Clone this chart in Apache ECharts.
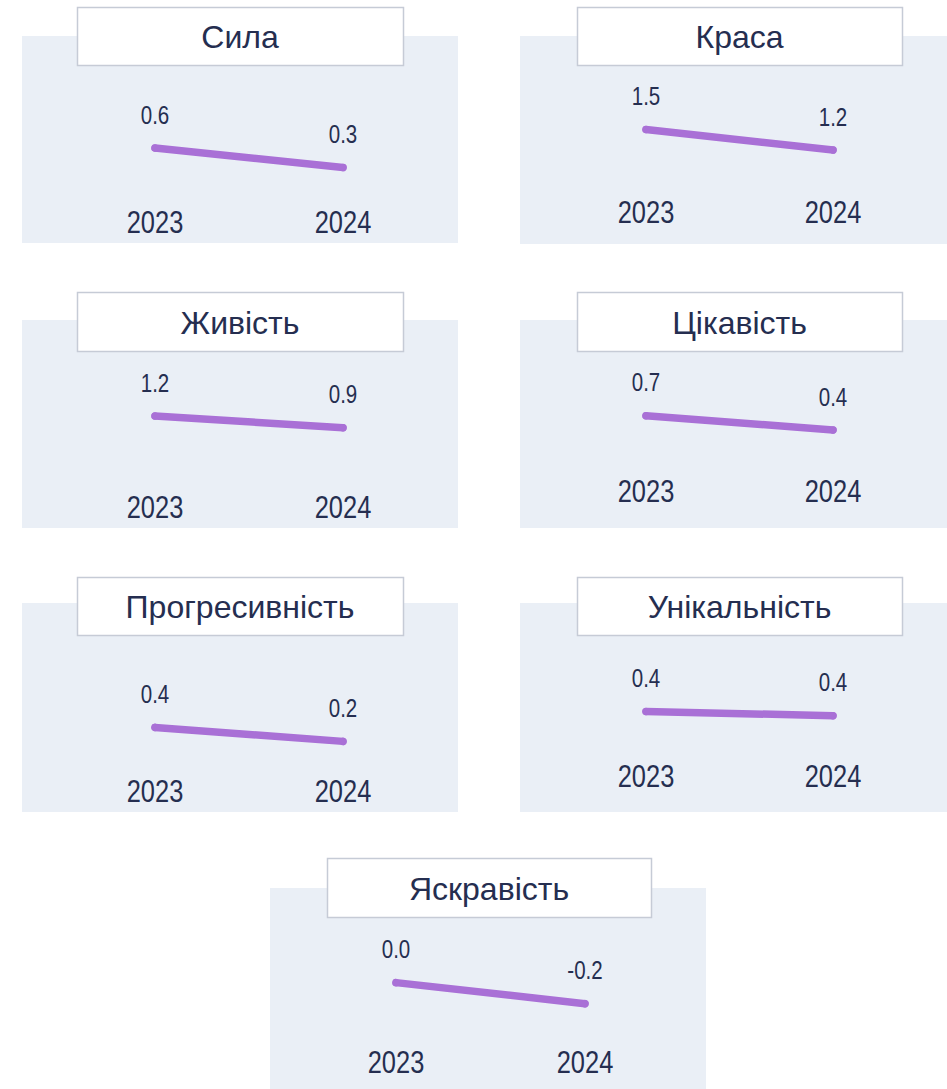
<!DOCTYPE html>
<html><head><meta charset="utf-8">
<script src="https://cdn.jsdelivr.net/npm/echarts@6/dist/echarts.min.js"></script>
<style>
html,body{margin:0;padding:0;background:#fff}
#c{width:947px;height:1089px}
</style>
</head><body><div id="c"></div>
<script>
// ---- data ----
const years = ['2023', '2024'];
const titles = ['Сила', 'Краса', 'Живість', 'Цікавість', 'Прогресивність', 'Унікальність', 'Яскравість'];
const sila = [0.6, 0.3];
const krasa = [1.5, 1.2];
const zhyvist = [1.2, 0.9];
const tsikavist = [0.7, 0.4];
const prohresyvnist = [0.4, 0.2];
const unikalnist = [0.43, 0.37];
const yaskravist = [0.0, -0.2];
const seriesValues = [sila, krasa, zhyvist, tsikavist, prohresyvnist, unikalnist, yaskravist];
// per-panel value-axis ranges (each small multiple is scaled independently)
const yMin = [0.018, 0.670, -0.185, -0.438, 0.034, -0.150, -0.527];
const yMax = [1.549, 2.141, 2.379, 1.658, 1.463, 1.245, 0.425];

// ---- layout (not data) ----
const layout = [
  {bx: 22,  by: 36,  bw: 436, bh: 207, tx: 77,  ty: 7,   tw: 326, th: 58, x0: 155, x1: 343, lm: 36.5},
  {bx: 520, by: 36,  bw: 436, bh: 208, tx: 577, ty: 7,   tw: 325, th: 58, x0: 646, x1: 833, lm: 26.5},
  {bx: 22,  by: 320, bw: 436, bh: 208, tx: 77,  ty: 292, tw: 326, th: 59, x0: 155, x1: 343, lm: 37},
  {bx: 520, by: 320, bw: 436, bh: 208, tx: 577, ty: 292, tw: 325, th: 59, x0: 646, x1: 833, lm: 21},
  {bx: 22,  by: 603, bw: 436, bh: 209, tx: 77,  ty: 577, tw: 326, th: 58, x0: 155, x1: 343, lm: 38.7},
  {bx: 520, by: 603, bw: 436, bh: 209, tx: 577, ty: 577, tw: 325, th: 58, x0: 646, x1: 833, lm: 23},
  {bx: 270, by: 888, bw: 436, bh: 210, tx: 327, ty: 858, tw: 324, th: 59, x0: 396, x1: 585, lm: 24.5}
];
const NAVY = '#252E50';
const PURPLE = '#A970D6';
const BG = '#EAEFF6';
const NARROW = '"Liberation Sans Narrow", "Liberation Sans", Arial, sans-serif';
const SANS = '"Liberation Sans", Arial, sans-serif';

const grids = [], xAxes = [], yAxes = [], series = [], graphics = [];
layout.forEach((L, i) => {
  grids.push({left: L.x0, top: L.by + 50, width: L.x1 - L.x0, height: 100, containLabel: false});
  xAxes.push({
    type: 'category', gridIndex: i, data: years, boundaryGap: false,
    axisLine: {show: false}, axisTick: {show: false}, splitLine: {show: false},
    axisLabel: {margin: L.lm, verticalAlign: 'middle', fontSize: 31, fontFamily: NARROW, color: NAVY}
  });
  yAxes.push({type: 'value', gridIndex: i, min: yMin[i], max: yMax[i], show: false});
  series.push({
    type: 'line', xAxisIndex: i, yAxisIndex: i, data: seriesValues[i],
    symbol: 'circle', symbolSize: 7.5, itemStyle: {color: PURPLE},
    lineStyle: {width: 7.5, color: PURPLE, cap: 'round'},
    label: {show: true, position: 'top', distance: 17, fontSize: 25, fontFamily: NARROW, color: NAVY,
      formatter: p => p.value.toFixed(1)},
    silent: true, animation: false, z: 5
  });
  graphics.push({type: 'rect', shape: {x: L.bx, y: L.by, width: L.bw, height: L.bh}, style: {fill: BG}, z: -10, silent: true});
  graphics.push({type: 'rect', shape: {x: L.tx + 0.5, y: L.ty + 0.5, width: L.tw, height: L.th},
    style: {fill: '#ffffff', stroke: '#C6CBD6', lineWidth: 1.5}, z: 50, silent: true});
  graphics.push({type: 'text', x: L.tx + L.tw / 2, y: L.ty + L.th / 2 + 1, z: 51, silent: true,
    style: {text: titles[i], fill: NAVY, fontSize: 32, fontFamily: SANS, textAlign: 'center', textVerticalAlign: 'middle'}});
});

const chart = echarts.init(document.getElementById('c'), null, {renderer: 'svg'});
chart.setOption({
  animation: false,
  backgroundColor: '#ffffff',
  grid: grids, xAxis: xAxes, yAxis: yAxes, series: series,
  graphic: {elements: graphics}
});

// No narrow face is installed: condense the numeric labels (Arial Narrow ≈ 0.82 × Arial width)
function condense() {
  document.querySelectorAll('#c svg text').forEach(t => {
    const st = (t.getAttribute('style') || '') + (t.getAttribute('font-family') || '');
    if (st.indexOf('Narrow') < 0 || t.getAttribute('lengthAdjust')) return;
    const w = t.getComputedTextLength();
    if (w > 0) {
      t.setAttribute('textLength', (w * 0.82).toFixed(2));
      t.setAttribute('lengthAdjust', 'spacingAndGlyphs');
    }
  });
}
condense();
chart.on('finished', condense);
</script></body></html>
